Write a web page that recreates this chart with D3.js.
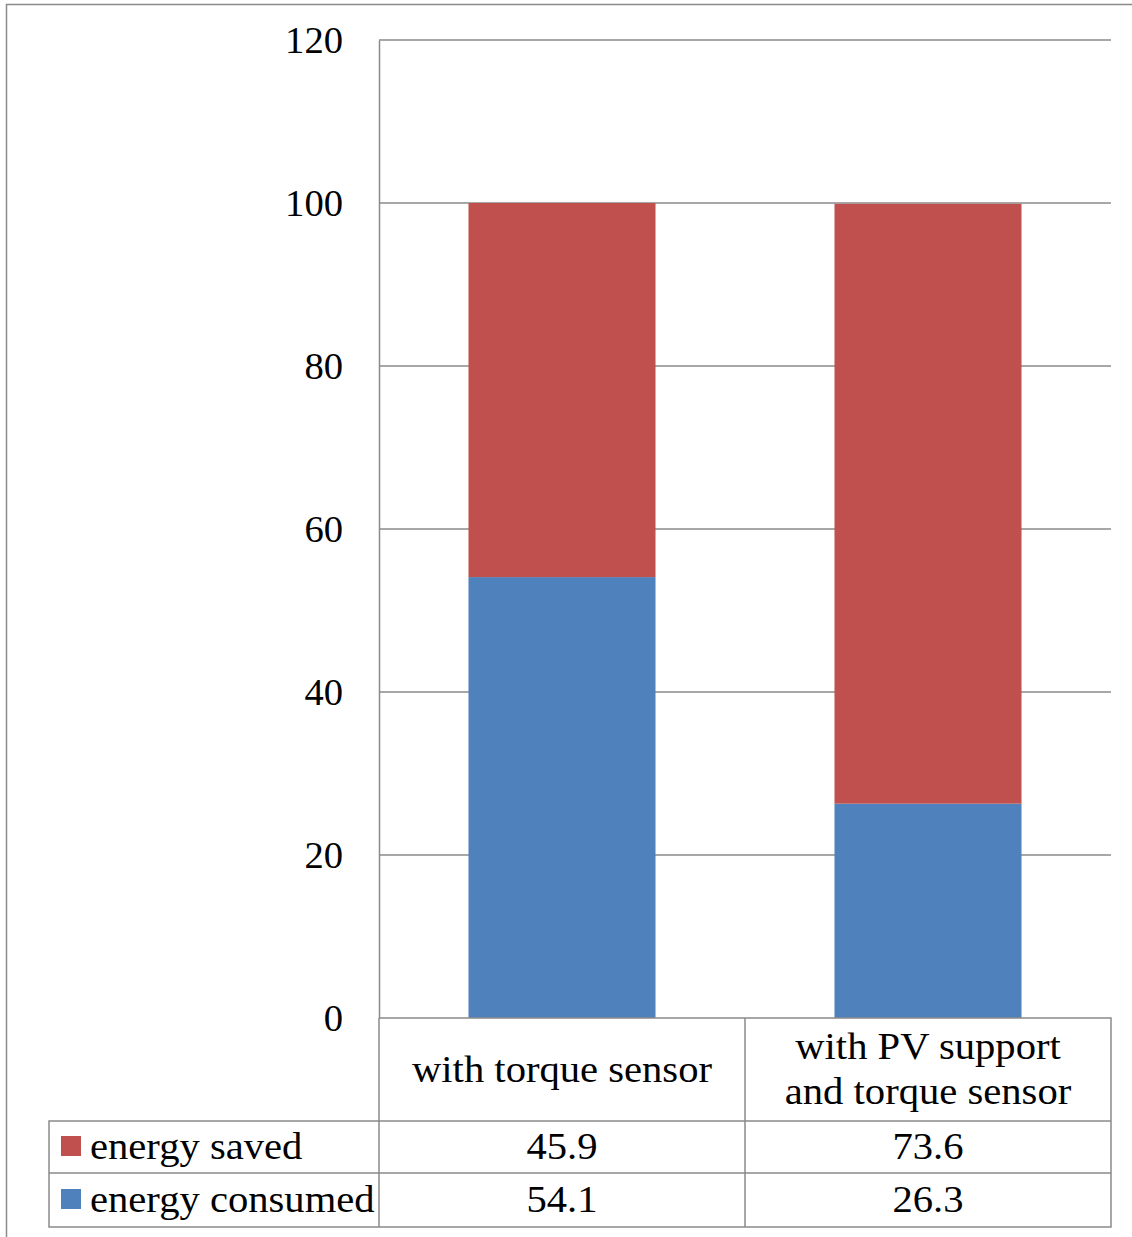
<!DOCTYPE html>
<html><head><meta charset="utf-8">
<script src="https://cdn.jsdelivr.net/npm/d3@7"></script>
<style>body{margin:0;background:#fff}svg{display:block}</style>
</head><body><div id="c"></div>
<script>
const categories = [["with torque sensor"], ["with PV support", "and torque sensor"]];
const categoryKeys = ["with torque sensor", "with PV support and torque sensor"];
const seriesNames = ["energy saved", "energy consumed"];
const energySaved = [45.9, 73.6];
const energyConsumed = [54.1, 26.3];
const yTicks = [0, 20, 40, 60, 80, 100, 120];
const colors = {"energy saved": "#C0504D", "energy consumed": "#4F81BD"};

const W = 1132, H = 1237;
const svg = d3.select("#c").append("svg").attr("width", W).attr("height", H);
const font = "'Liberation Serif', 'Times New Roman', serif";
const grid = "#8a8a8a";

// outer frame
svg.append("path").attr("d", `M6.5,${H} V4.5 H${W}`).attr("fill","none").attr("stroke", grid).attr("stroke-width", 1.5);

const L = 379, R = 1111, T = 40, B = 1018;
const y = d3.scaleLinear().domain([0, 120]).range([B, T]);
const x = d3.scaleBand().domain(categoryKeys).range([L, R]).paddingInner(0.489).paddingOuter(0.2445);

// grid
svg.append("g").selectAll("line").data(yTicks.filter(d => d > 0)).join("line")
  .attr("x1", L).attr("x2", R).attr("y1", d => y(d)).attr("y2", d => y(d))
  .attr("stroke", grid).attr("stroke-width", 1.3);

// stacked bars
const rows = categoryKeys.map((k, i) => ({key: k, "energy consumed": energyConsumed[i], "energy saved": energySaved[i]}));
const stack = d3.stack().keys(["energy consumed", "energy saved"])(rows);
svg.append("g").selectAll("g").data(stack).join("g").attr("fill", d => colors[d.key])
  .selectAll("rect").data(d => d).join("rect")
  .attr("x", d => x(d.data.key)).attr("width", x.bandwidth())
  .attr("y", d => y(d[1])).attr("height", d => y(d[0]) - y(d[1]));

// y axis
const yAxis = d3.axisLeft(y).tickValues(yTicks).tickSize(0).tickPadding(36);
const ga = svg.append("g").attr("transform", `translate(${L},0)`).call(yAxis);
ga.select(".domain").attr("stroke", grid).attr("stroke-width", 1.5);
ga.selectAll(".tick text").each(function() {
  const t = d3.select(this);
  t.attr("font-family", font).attr("font-size", 37.5).attr("fill", "#000").attr("dy", "0.34em")
   .attr("transform", `translate(-36,0) scale(1.03,1)`).attr("x", 0);
});

// data table
const tbl = svg.append("g").attr("fill", "none").attr("stroke", grid).attr("stroke-width", 1.5);
const xs = [L, (L + R) / 2, R];
const rowY = [B, 1121, 1173, 1227];
const TL = 49;
tbl.append("path").attr("d",
  `M${L},${rowY[0]} H${R} V${rowY[3]} H${TL} V${rowY[1]} H${R}` +
  ` M${TL},${rowY[2]} H${R} M${L},${rowY[0]} V${rowY[3]} M${xs[1]},${rowY[0]} V${rowY[3]}`);

const txt = svg.append("g").attr("font-family", font).attr("fill", "#000");
const fs = 38.5, sx = 1.055;
function put(xp, yp, s, anchor) {
  txt.append("text").attr("transform", `translate(${xp},${yp}) scale(${sx},1)`)
    .attr("dy", "0.32em").attr("text-anchor", anchor).attr("font-size", fs).text(s);
}
categories.forEach((lines, i) => {
  const cx = (xs[i] + xs[i + 1]) / 2;
  const mid = (rowY[0] + rowY[1]) / 2;
  lines.forEach((ln, j) => put(cx, mid + (j - (lines.length - 1) / 2) * 45, ln, "middle"));
});
const seriesVals = [energySaved, energyConsumed];
seriesNames.forEach((s, r) => {
  const mid = (rowY[r + 1] + rowY[r + 2]) / 2;
  svg.append("rect").attr("x", 61).attr("y", mid - 10 - 1).attr("width", 20).attr("height", 20).attr("fill", colors[s]);
  put(90, mid, s, "start");
  seriesVals[r].forEach((v, i) => put((xs[i] + xs[i + 1]) / 2, mid, v, "middle"));
});
</script></body></html>
